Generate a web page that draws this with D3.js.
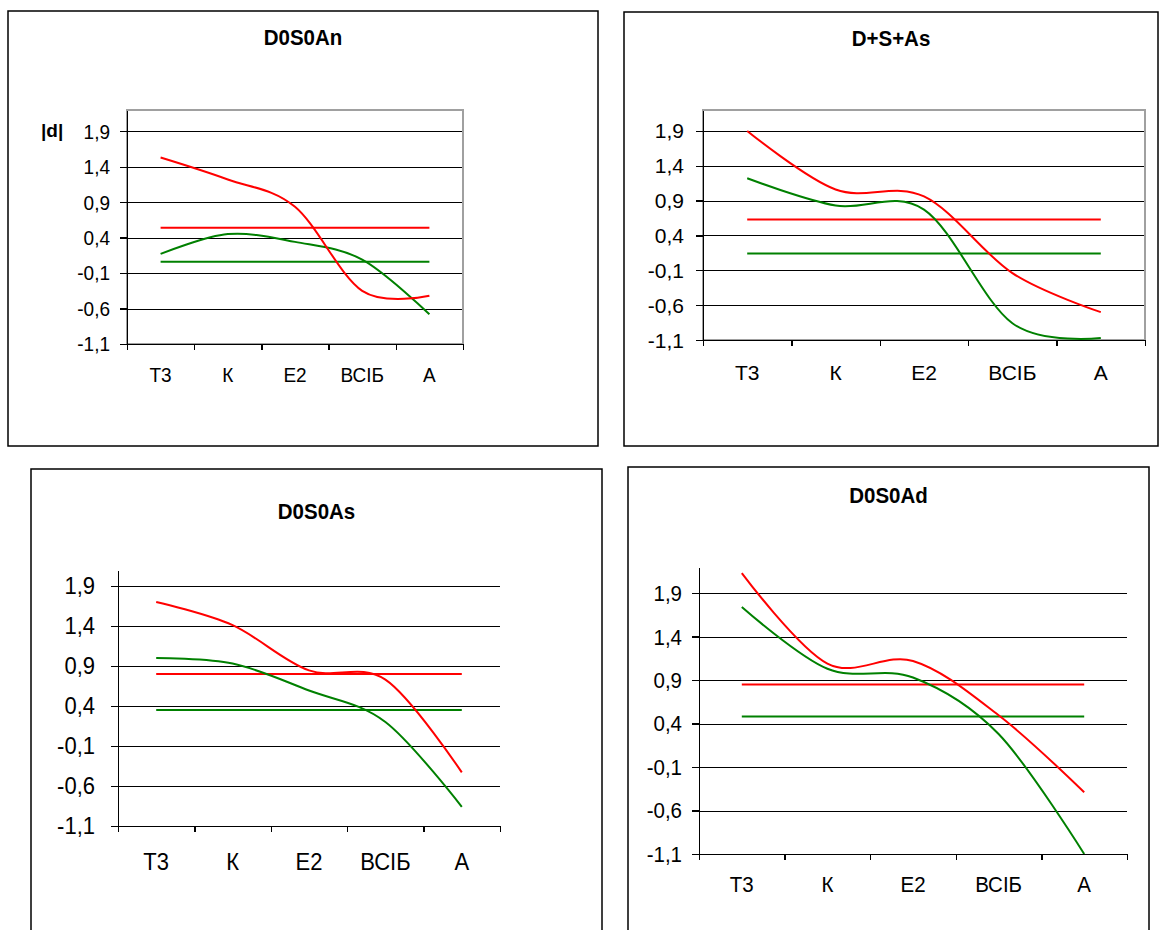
<!DOCTYPE html>
<html>
<head>
<meta charset="utf-8">
<script src="https://cdn.jsdelivr.net/npm/d3@7"></script>
<style>
  body { margin: 0; background: #fff; }
  text { font-family: "Liberation Sans", Arial, sans-serif; fill: #000; }
</style>
</head>
<body>
<svg id="drawing_region" width="1161" height="930"></svg>
<script>
const categories = ['Т3', 'К', 'Е2', 'ВСІБ', 'А'];
const yTicks = [-1.1, -0.6, -0.1, 0.4, 0.9, 1.4, 1.9];

// D0S0An
const anRed = [1.53, 1.22, 0.835, -0.35, -0.42];
const anGreen = [0.17, 0.45, 0.34, 0.09, -0.68];
const anRedLevel = 0.54;
const anGreenLevel = 0.06;

// D+S+As
const dsaRed = [1.9, 1.06, 0.96, -0.14, -0.70];
const dsaGreen = [1.22, 0.83, 0.77, -0.86, -1.07];
const dsaRedLevel = 0.63;
const dsaGreenLevel = 0.14;

// D0S0As
const asRed = [1.70, 1.41, 0.845, 0.73, -0.43];
const asGreen = [1.0, 0.93, 0.594, 0.20, -0.86];
const asRedLevel = 0.80;
const asGreenLevel = 0.35;

// D0S0Ad
const adRed = [2.13, 1.09, 1.12, 0.495, -0.39];
const adGreen = [1.74, 1.03, 0.93, 0.28, -1.1];
const adRedLevel = 0.85;
const adGreenLevel = 0.48;

const fmt = d => d.toFixed(1).replace('.', ',');

class LineChart {
    constructor(config, data) {
        this.config = {
            parent: config.parent,
            title: config.title,
            box: config.box,
            plot: config.plot,
            yMax: config.yMax || 2.2,
            fontSize: config.fontSize || 20,
            stretch: config.stretch || 1,
            labelGap: config.labelGap || 17,
            xLabelOffset: config.xLabelOffset || 38,
            titleBaseline: config.titleBaseline,
            plotBorder: config.plotBorder || false,
            yTitle: config.yTitle || null
        };
        this.data = data;
        this.init();
    }

    init() {
        let self = this;
        let p = self.config.plot;

        self.svg = d3.select(self.config.parent);
        self.inner_width = p.right - p.left;
        self.inner_height = p.bottom - p.top;

        self.chart = self.svg.append('g')
            .attr('transform', `translate(${p.left}, ${p.top})`);

        self.xscale = d3.scaleBand()
            .domain(categories)
            .range([0, self.inner_width]);

        self.xedge = d3.scaleLinear()
            .domain([0, categories.length])
            .range([0, self.inner_width]);

        self.yscale = d3.scaleLinear()
            .domain([-1.1, self.config.yMax])
            .range([self.inner_height, 0]);
    }

    render() {
        let self = this;
        let c = self.config;
        let b = c.box;
        let fs = c.fontSize;
        let cap = 0.716 * fs * c.stretch;
        let cx = d => self.xscale(d) + self.xscale.bandwidth() / 2;

        // outer frame
        self.svg.insert('rect', ':first-child')
            .attr('x', b.x0).attr('y', b.y0)
            .attr('width', b.x1 - b.x0).attr('height', b.y1 - b.y0)
            .attr('fill', '#fff')
            .attr('stroke', '#000')
            .attr('stroke-width', 1.5);

        self.svg.append('text')
            .attr('transform', `translate(${(b.x0 + b.x1) / 2}, ${c.titleBaseline}) scale(1, 1.05)`)
            .attr('text-anchor', 'middle')
            .style('font-size', '20.5px')
            .style('font-weight', 'bold')
            .text(c.title);

        // gridlines
        self.chart.selectAll('.grid')
            .data(yTicks)
            .join('line')
            .attr('class', 'grid')
            .attr('x1', 0)
            .attr('x2', self.inner_width)
            .attr('y1', d => Math.round(self.yscale(d)) + 0.5)
            .attr('y2', d => Math.round(self.yscale(d)) + 0.5)
            .attr('stroke', '#000')
            .attr('stroke-width', 1);

        if (c.plotBorder) {
            self.chart.append('rect')
                .attr('x', 0).attr('y', 0)
                .attr('width', self.inner_width)
                .attr('height', self.inner_height)
                .attr('fill', 'none')
                .attr('stroke', '#a0a0a0')
                .attr('stroke-width', 2);
        }

        // horizontal level lines
        const flat = d3.line()
            .x((d, i) => cx(categories[i]))
            .y(d => self.yscale(d));

        const levels = [
            { v: self.data.greenLevel, color: '#008000' },
            { v: self.data.redLevel, color: '#ff0000' }
        ];
        self.chart.selectAll('.level')
            .data(levels)
            .join('path')
            .attr('class', 'level')
            .attr('d', d => flat(categories.map(() => d.v)))
            .attr('fill', 'none')
            .attr('stroke', d => d.color)
            .attr('stroke-width', 2);

        // smoothed series
        const smooth = d3.line()
            .x((d, i) => cx(categories[i]))
            .y(d => self.yscale(d))
            .curve(d3.curveCardinal.tension(0));

        const series = [
            { v: self.data.green, color: '#008000' },
            { v: self.data.red, color: '#ff0000' }
        ];
        self.chart.selectAll('.series')
            .data(series)
            .join('path')
            .attr('class', 'series')
            .attr('d', d => smooth(d.v))
            .attr('fill', 'none')
            .attr('stroke', d => d.color)
            .attr('stroke-width', 2);

        // axes
        const yaxis = d3.axisLeft(self.yscale)
            .tickValues(yTicks)
            .tickSize(7)
            .tickSizeOuter(0)
            .tickFormat('');
        const yg = self.chart.append('g').call(yaxis);

        const xaxis = d3.axisBottom(self.xedge)
            .tickValues(d3.range(categories.length + 1))
            .tickSize(6)
            .tickSizeOuter(0)
            .tickFormat('');
        const xg = self.chart.append('g')
            .attr('transform', `translate(0, ${self.inner_height})`)
            .call(xaxis);

        [yg, xg].forEach(g => {
            g.selectAll('path, line')
                .attr('stroke', '#000')
                .attr('stroke-width', 1.3)
                .attr('shape-rendering', 'crispEdges');
        });

        // tick labels
        self.chart.selectAll('.ylab')
            .data(yTicks)
            .join('text')
            .attr('class', 'ylab')
            .attr('text-anchor', 'end')
            .attr('transform', d => `translate(${-c.labelGap}, ${self.yscale(d) + cap / 2}) scale(1, ${c.stretch})`)
            .style('font-size', fs + 'px')
            .text(fmt);

        self.chart.selectAll('.xlab')
            .data(categories)
            .join('text')
            .attr('class', 'xlab')
            .attr('text-anchor', 'middle')
            .attr('transform', d => `translate(${cx(d)}, ${self.inner_height + c.xLabelOffset}) scale(1, ${c.stretch})`)
            .style('font-size', fs + 'px')
            .text(d => d);

        if (c.yTitle) {
            self.svg.append('text')
                .attr('x', c.yTitle.x)
                .attr('y', c.yTitle.y)
                .style('font-size', '19px')
                .style('font-weight', 'bold')
                .text(c.yTitle.text);
        }
    }
}

const charts = [
    new LineChart({
        parent: '#drawing_region', title: 'D0S0An',
        box: { x0: 8, y0: 11, x1: 598, y1: 446 },
        plot: { left: 127, right: 463, top: 110, bottom: 344 },
        yMax: 2.2, fontSize: 19, stretch: 1.08, labelGap: 17, xLabelOffset: 38,
        titleBaseline: 45, plotBorder: true,
        yTitle: { x: 41, y: 137, text: '|d|' }
    }, { red: anRed, green: anGreen, redLevel: anRedLevel, greenLevel: anGreenLevel }),
    new LineChart({
        parent: '#drawing_region', title: 'D+S+As',
        box: { x0: 624, y0: 12, x1: 1158, y1: 446 },
        plot: { left: 703, right: 1145, top: 110, bottom: 340 },
        yMax: 2.2, fontSize: 21, stretch: 1.0, labelGap: 19, xLabelOffset: 40,
        titleBaseline: 46, plotBorder: true
    }, { red: dsaRed, green: dsaGreen, redLevel: dsaRedLevel, greenLevel: dsaGreenLevel }),
    new LineChart({
        parent: '#drawing_region', title: 'D0S0As',
        box: { x0: 31, y0: 469, x1: 602, y1: 945 },
        plot: { left: 118, right: 500, top: 570, bottom: 826 },
        yMax: 2.1, fontSize: 22, stretch: 1.05, labelGap: 23, xLabelOffset: 44,
        titleBaseline: 519
    }, { red: asRed, green: asGreen, redLevel: asRedLevel, greenLevel: asGreenLevel }),
    new LineChart({
        parent: '#drawing_region', title: 'D0S0Ad',
        box: { x0: 628, y0: 467, x1: 1149, y1: 945 },
        plot: { left: 699, right: 1127, top: 567, bottom: 854 },
        yMax: 2.2, fontSize: 20.5, stretch: 1.08, labelGap: 17, xLabelOffset: 38,
        titleBaseline: 503
    }, { red: adRed, green: adGreen, redLevel: adRedLevel, greenLevel: adGreenLevel })
];

charts.forEach(chart => chart.render());
</script>
</body>
</html>
